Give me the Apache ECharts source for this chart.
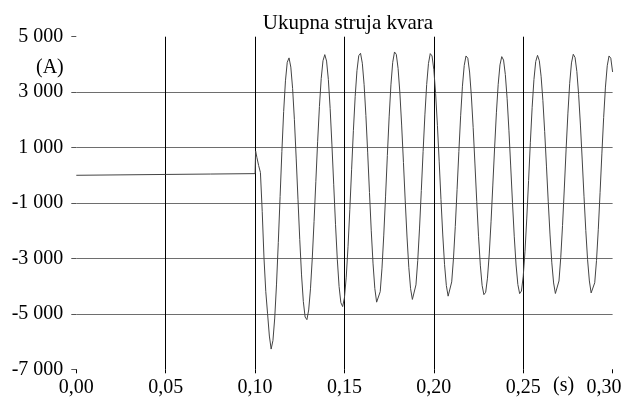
<!DOCTYPE html>
<html>
<head>
<meta charset="utf-8">
<script src="https://cdn.jsdelivr.net/npm/echarts@6/dist/echarts.min.js"></script>
<style>
html,body{margin:0;padding:0;background:#fff;}
#chart{width:627px;height:398px;}
</style>
</head>
<body>
<div id="chart"></div>
<script>
const titleText = 'Ukupna struja kvara';
const yUnit = '(A)';
const xUnit = '(s)';
const xTickLabels = ['0,00','0,05','0,10','0,15','0,20','0,25','0,30'];
const yTickLabels = ['-7 000','-5 000','-3 000','-1 000','1 000','3 000','5 000'];

const prefaultTime = [0, 0.025, 0.05, 0.075, 0.1, 0.1003];
const prefaultCurrent = [0, 15, 30, 45, 60, 880];

const faultTime = [
0.101,0.102,0.103,0.104,0.105,0.106,0.107,0.108,0.109,0.110,
0.111,0.112,0.113,0.114,0.115,0.116,0.117,0.118,0.119,0.120,
0.121,0.122,0.123,0.124,0.125,0.126,0.127,0.128,0.129,0.130,
0.131,0.132,0.133,0.134,0.135,0.136,0.137,0.138,0.139,0.140,
0.141,0.142,0.143,0.144,0.145,0.146,0.147,0.148,0.149,0.150,
0.151,0.152,0.153,0.154,0.155,0.156,0.157,0.158,0.159,0.160,
0.161,0.162,0.163,0.164,0.165,0.166,0.167,0.168,0.169,0.170,
0.171,0.172,0.173,0.174,0.175,0.176,0.177,0.178,0.179,0.180,
0.181,0.182,0.183,0.184,0.185,0.186,0.187,0.188,0.189,0.190,
0.191,0.192,0.193,0.194,0.195,0.196,0.197,0.198,0.199,0.200,
0.201,0.202,0.203,0.204,0.205,0.206,0.207,0.208,0.209,0.210,
0.211,0.212,0.213,0.214,0.215,0.216,0.217,0.218,0.219,0.220,
0.221,0.222,0.223,0.224,0.225,0.226,0.227,0.228,0.229,0.230,
0.231,0.232,0.233,0.234,0.235,0.236,0.237,0.238,0.239,0.240,
0.241,0.242,0.243,0.244,0.245,0.246,0.247,0.248,0.249,0.250,
0.251,0.252,0.253,0.254,0.255,0.256,0.257,0.258,0.259,0.260,
0.261,0.262,0.263,0.264,0.265,0.266,0.267,0.268,0.269,0.270,
0.271,0.272,0.273,0.274,0.275,0.276,0.277,0.278,0.279,0.280,
0.281,0.282,0.283,0.284,0.285,0.286,0.287,0.288,0.289,0.290,
0.291,0.292,0.293,0.294,0.295,0.296,0.297,0.298,0.299,0.300
];
const faultCurrent = [
650,350,100,-1300,-3000,-4200,-5000,-5800,-6270,-5961,
-5151,-3926,-2421,-769,861,2303,3408,4076,4235,3903,
3136,2004,621,-861,-2320,-3594,-4556,-5114,-5209,-4859,
-4097,-2996,-1664,-217,1210,2485,3491,4133,4353,4121,
3452,2406,1095,-343,-1767,-3032,-4014,-4597,-4738,-4417,
-3674,-2578,-1239,197,1609,2843,3774,4315,4402,4043,
3267,2154,809,-622,-2003,-3197,-4088,-4578,-4623,-4199,
-3350,-2158,-752,714,2107,3262,4075,4449,4364,3856,
2980,1812,464,-925,-2228,-3320,-4093,-4479,-4435,-3953,
-3078,-1904,-547,859,2180,3274,4037,4390,4306,3809,
2950,1805,484,-877,-2154,-3225,-3982,-4361,-4318,-3846,
-2992,-1845,-519,855,2146,3215,3961,4305,4223,3726,
2861,1719,408,-941,-2200,-3243,-3969,-4307,-4221,-3712,
-2838,-1680,-353,995,2253,3282,3984,4281,4157,3634,
2763,1627,336,-993,-2220,-3236,-3940,-4270,-4175,-3650,
-2741,-1543,-191,1192,2453,3457,4103,4327,4137,3575,
2703,1584,331,-956,-2153,-3160,-3885,-4265,-4257,-3813,
-2966,-1807,-460,943,2242,3319,4054,4366,4249,3745,
2911,1812,552,-755,-1989,-3040,-3813,-4244,-4278,-3877,
-3073,-1946,-615,772,2089,3182,3951,4305,4223,3727
];

const seriesData = prefaultTime.map((t, i) => [t, prefaultCurrent[i]])
  .concat(faultTime.map((t, i) => [t, faultCurrent[i]]));

const FONT = '"Liberation Serif", "Times New Roman", serif';
const chart = echarts.init(document.getElementById('chart'), null, {renderer: 'canvas'});
chart.setOption({
  animation: false,
  backgroundColor: '#fff',
  title: {
    text: titleText,
    left: 343,
    textAlign: 'center',
    top: 8,
    textStyle: {fontFamily: FONT, fontSize: 21, fontWeight: 'normal', color: '#000'}
  },
  grid: {left: 76.3, right: 14.4, top: 36.7, bottom: 28.7, containLabel: false},
  xAxis: {
    type: 'value',
    min: 0, max: 0.3, interval: 0.05,
    axisLine: {show: false, onZero: false},
    axisTick: {show: true, length: 4, lineStyle: {color: '#000', width: 1}},
    splitLine: {show: true, showMinLine: false, showMaxLine: false, lineStyle: {color: '#000', width: 1}},
    axisLabel: {
      fontFamily: FONT, fontSize: 20, color: '#000', margin: 8,
      formatter: function (v, i) {
        const idx = Math.round(v / 0.05);
        const s = xTickLabels[idx];
        return idx === xTickLabels.length - 1 ? '{last|' + s + '}' : s;
      },
      rich: {last: {fontFamily: FONT, fontSize: 20, color: '#000', padding: [0, 17, 0, 0]}}
    }
  },
  yAxis: {
    type: 'value',
    min: -7000, max: 5000, interval: 2000,
    axisLine: {show: false, onZero: false},
    axisTick: {show: true, length: 5, lineStyle: {color: '#555', width: 1}},
    splitLine: {show: true, showMinLine: false, showMaxLine: false, lineStyle: {color: '#6e6e6e', width: 1.2}},
    axisLabel: {
      fontFamily: FONT, fontSize: 20, color: '#000', margin: 13,
      formatter: function (v) { return yTickLabels[Math.round((v + 7000) / 2000)]; }
    }
  },
  graphic: [
    {type: 'text', left: 36, top: 58, style: {text: yUnit, font: '20px ' + FONT, fill: '#000'}},
    {type: 'text', left: 553, top: 376, style: {text: xUnit, font: '20px ' + FONT, fill: '#000'}}
  ],
  series: [{
    type: 'line',
    data: seriesData,
    showSymbol: false,
    symbol: 'none',
    lineStyle: {color: '#444', width: 1},
    clip: true
  }]
});
</script>
</body>
</html>
